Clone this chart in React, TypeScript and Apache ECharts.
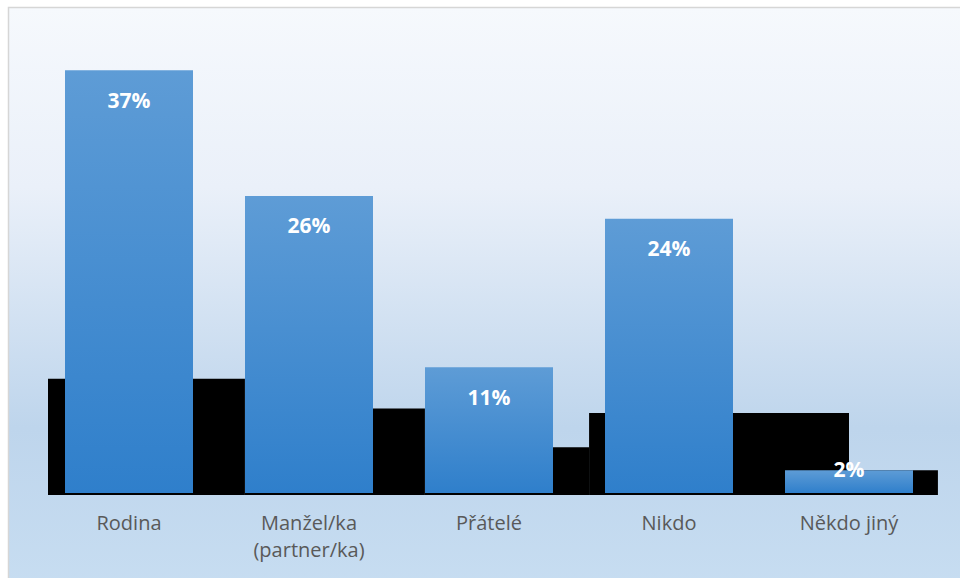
import React, { useEffect, useRef } from "react";
import * as echarts from "echarts";

const categories = ["Rodina", "Manžel/ka\n(partner/ka)", "Přátelé", "Nikdo", "Někdo jiný"];
const shares = [37, 26, 11, 24, 2];
// black step shapes behind the bars: [start, end (category units), height %]
const backSteps: [number, number, number][] = [
  [-0.45, 0.644, 10],
  [0.644, 1.644, 7.4],
  [1.644, 2.556, 4],
  [2.556, 4.0, 7],
  [4.0, 4.494, 2],
];

export default function App() {
  const ref = useRef<HTMLDivElement>(null);
  useEffect(() => {
    if (!ref.current) return;
    const chart = echarts.init(ref.current, null, { renderer: "svg" });
    const font = "'Open Sans', 'DejaVu Sans', sans-serif";
    chart.setOption({
      animation: false,
      graphic: [
        {
          type: "rect",
          z: -10,
          silent: true,
          shape: { x: 8.5, y: 7.5, width: 980, height: 600 },
          style: {
            fill: new echarts.graphic.LinearGradient(0, 0, 0, 1, [
              { offset: 0, color: "#F6F9FD" },
              { offset: 0.3, color: "#EAF0F9" },
              { offset: 0.7, color: "#BED5EC" },
              { offset: 1, color: "#C8DEF2" },
            ]),
            stroke: "#D6D6D6",
            lineWidth: 1.5,
          },
        },
      ],
      grid: { left: 39, right: 21, top: 36, bottom: 85 },
      xAxis: [
        {
          type: "category",
          data: categories,
          axisLine: { show: false },
          axisTick: { show: false },
          axisLabel: {
            color: "#595959",
            fontSize: 20,
            fontFamily: font,
            margin: 16,
            lineHeight: 27,
          },
        },
        { type: "value", min: -0.5, max: 4.5, show: false },
      ],
      yAxis: { type: "value", min: 0, max: 40, show: false },
      series: [
        {
          type: "custom",
          xAxisIndex: 1,
          z: 1,
          silent: true,
          encode: { x: [0, 1], y: 2 },
          data: backSteps,
          renderItem: (params: any, api: any) => {
            const p0 = api.coord([api.value(0), api.value(2)]);
            const p1 = api.coord([api.value(1), 0]);
            return {
              type: "rect",
              shape: { x: p0[0], y: p0[1], width: p1[0] - p0[0], height: p1[1] - p0[1] + 2 },
              style: { fill: "#000000" },
            };
          },
        },
        {
          type: "bar",
          z: 3,
          barWidth: 128,
          data: shares.map((v) => ({
            value: v,
            label:
              v < 5
                ? { position: "top", distance: -9 }
                : { position: "insideTop", distance: 19 },
          })),
          itemStyle: {
            color: new echarts.graphic.LinearGradient(0, 0, 0, 1, [
              { offset: 0, color: "#5E9CD6" },
              { offset: 1, color: "#2F7FCB" },
            ]),
          },
          label: {
            show: true,
            color: "#FFFFFF",
            fontSize: 21,
            fontWeight: "bold",
            fontFamily: font,
            formatter: "{c}%",
          },
        },
      ],
    });
    return () => chart.dispose();
  }, []);
  return (
    <div
      ref={ref}
      style={{ position: "absolute", left: 0, top: 0, width: 960, height: 578 }}
    />
  );
}
